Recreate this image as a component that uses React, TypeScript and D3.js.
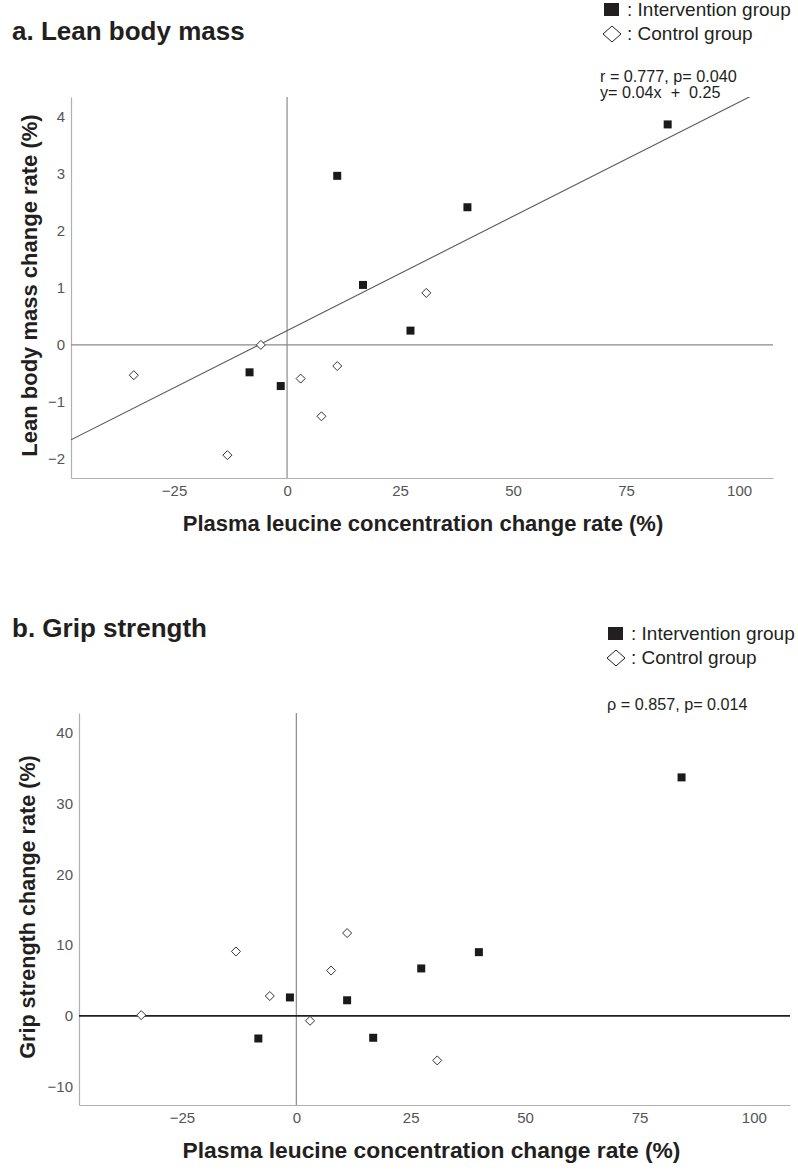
import React, { useEffect, useRef } from "react";
import * as d3 from "d3";

// leucine change (%) per subject, same subjects in both panels
const leucineIntervention = [84.2, 39.9, 27.3, -1.4, 11.1, -8.3, 16.8];
const leucineControl = [-33.9, -13.2, -5.8, 3.0, 7.6, 11.1, 30.8];

const leanIntervention = [3.86, 2.41, 0.25, -0.72, 2.96, -0.48, 1.05];
const leanControl = [-0.53, -1.93, 0.0, -0.59, -1.25, -0.37, 0.91];

const gripIntervention = [33.7, 9.0, 6.7, 2.6, 2.2, -3.2, -3.1];
const gripControl = [0.1, 9.1, 2.8, -0.7, 6.4, 11.7, -6.3];

const xTicks = [-25, 0, 25, 50, 75, 100];
const leanTicks = [-2, -1, 0, 1, 2, 3, 4];
const gripTicks = [-10, 0, 10, 20, 30, 40];

const leanFit = { slope: 0.04, intercept: 0.25 };

const legendLabels = [": Intervention group", ": Control group"];
const xTitle = "Plasma leucine concentration change rate (%)";

const FONT = "'Liberation Sans', Arial, sans-serif";

type Panel = {
  title: string;
  yTitle: string;
  stats: string[];
  xDomain: [number, number];
  yDomain: [number, number];
  left: number; right: number; top: number; bottom: number;
  yTicks: number[];
  inter: number[];
  ctrl: number[];
  fit: { slope: number; intercept: number } | null;
  zeroDark: boolean;
  titleY: number;
  legendY: number;
  legendX: number;
  statsX: number;
  statsY: number;
  xTitleY: number;
  xTitleSize: number;
  xTitleShift: number;
  yTitleX: number;
  yTitleSize: number;
};

const panels: Panel[] = [
  {
    title: "a. Lean body mass",
    yTitle: "Lean body mass change rate (%)",
    stats: ["r = 0.777, p= 0.040", "y= 0.04x \u00A0+\u00A0 0.25"],
    xDomain: [-47.8, 107.5],
    yDomain: [-2.33, 4.34],
    left: 71, right: 773, top: 97, bottom: 478,
    yTicks: leanTicks,
    inter: leanIntervention,
    ctrl: leanControl,
    fit: leanFit,
    zeroDark: false,
    titleY: 40,
    legendY: 9,
    legendX: 604,
    statsX: 600,
    statsY: 82,
    xTitleY: 531,
    xTitleSize: 22,
    xTitleShift: 1,
    yTitleX: 37,
    yTitleSize: 22,
  },
  {
    title: "b. Grip strength",
    yTitle: "Grip strength change rate (%)",
    stats: ["\u03C1 = 0.857, p= 0.014"],
    xDomain: [-47.5, 107.9],
    yDomain: [-12.6, 42.8],
    left: 79, right: 790, top: 713, bottom: 1105,
    yTicks: gripTicks,
    inter: gripIntervention,
    ctrl: gripControl,
    fit: null,
    zeroDark: true,
    titleY: 637,
    legendY: 633,
    legendX: 608,
    statsX: 607,
    statsY: 710,
    xTitleY: 1158,
    xTitleSize: 22.8,
    xTitleShift: -3,
    yTitleX: 35,
    yTitleSize: 21.6,
  },
];

function drawPanel(svg: d3.Selection<SVGSVGElement, unknown, null, undefined>, p: Panel, i: number) {
  const x = d3.scaleLinear().domain(p.xDomain).range([p.left, p.right]);
  const y = d3.scaleLinear().domain(p.yDomain).range([p.bottom, p.top]);
  const g = svg.append("g");

  // title
  g.append("text")
    .attr("x", 12).attr("y", p.titleY)
    .attr("font-size", 26).attr("font-weight", "bold").attr("fill", "#231f20")
    .text(p.title);

  // legend
  g.append("rect")
    .attr("x", p.legendX).attr("y", p.legendY - 6)
    .attr("width", 15).attr("height", 13)
    .attr("fill", "#231f20");
  g.append("text")
    .attr("x", p.legendX + 23).attr("y", p.legendY + 7)
    .attr("font-size", 19).attr("fill", "#231f20")
    .text(legendLabels[0]);
  const dy = p.legendY + 25;
  g.append("path")
    .attr("d", `M${p.legendX + 8},${dy - 8}L${p.legendX + 17},${dy}L${p.legendX + 8},${dy + 8}L${p.legendX - 1},${dy}Z`)
    .attr("fill", "white").attr("stroke", "#231f20").attr("stroke-width", 1);
  g.append("text")
    .attr("x", p.legendX + 23).attr("y", dy + 6)
    .attr("font-size", 19).attr("fill", "#231f20")
    .text(legendLabels[1]);

  // stats
  p.stats.forEach((s, k) => {
    g.append("text")
      .attr("x", p.statsX).attr("y", p.statsY + k * 16)
      .attr("font-size", 16.2).attr("fill", "#231f20")
      .style("white-space", "pre")
      .text(s);
  });

  // axes
  const xAxis = g.append("g")
    .attr("transform", `translate(0,${p.bottom})`)
    .call(d3.axisBottom(x).tickValues(xTicks).tickFormat(d3.format("d")).tickSize(0).tickPadding(7.5));
  const yAxis = g.append("g")
    .attr("transform", `translate(${p.left},0)`)
    .call(d3.axisLeft(y).tickValues(p.yTicks).tickFormat(d3.format("d")).tickSize(0).tickPadding(6));
  [xAxis, yAxis].forEach(a => {
    a.select(".domain").attr("stroke", "#b0b0b0").attr("stroke-width", 1.2);
    a.selectAll("text").attr("font-size", 15).attr("fill", "#555").attr("font-family", FONT);
  });

  // zero reference lines
  g.append("line")
    .attr("x1", x(0)).attr("x2", x(0)).attr("y1", p.top).attr("y2", p.bottom)
    .attr("stroke", "#8a8a8a").attr("stroke-width", 1.2);
  g.append("line")
    .attr("x1", p.left).attr("x2", p.right).attr("y1", y(0)).attr("y2", y(0))
    .attr("stroke", p.zeroDark ? "#231f20" : "#8a8a8a")
    .attr("stroke-width", p.zeroDark ? 1.6 : 1.2);

  // fit line
  if (p.fit) {
    const clipId = `clip${i}`;
    svg.append("defs").append("clipPath").attr("id", clipId)
      .append("rect")
      .attr("x", p.left).attr("y", p.top)
      .attr("width", p.right - p.left).attr("height", p.bottom - p.top);
    const f = p.fit;
    g.append("line")
      .attr("clip-path", `url(#${clipId})`)
      .attr("x1", x(p.xDomain[0])).attr("y1", y(f.slope * p.xDomain[0] + f.intercept))
      .attr("x2", x(p.xDomain[1])).attr("y2", y(f.slope * p.xDomain[1] + f.intercept))
      .attr("stroke", "#5a5a5a").attr("stroke-width", 1.1);
  }

  // points
  const square = d3.symbol(d3.symbolSquare, 64)();
  const diamond = d3.symbol(d3.symbolDiamond2, 52)();

  g.selectAll(".ctrl")
    .data(leucineControl.map((v, k) => ({ x: v, y: p.ctrl[k] })))
    .enter().append("path")
      .attr("class", "ctrl")
      .attr("d", diamond)
      .attr("transform", d => `translate(${x(d.x)},${y(d.y)})`)
      .attr("fill", "white").attr("stroke", "#333").attr("stroke-width", 1);

  g.selectAll(".inter")
    .data(leucineIntervention.map((v, k) => ({ x: v, y: p.inter[k] })))
    .enter().append("path")
      .attr("class", "inter")
      .attr("d", square)
      .attr("transform", d => `translate(${x(d.x)},${y(d.y)})`)
      .attr("fill", "#1a1a1a");

  // axis titles
  g.append("text")
    .attr("x", (p.left + p.right) / 2 + p.xTitleShift).attr("y", p.xTitleY)
    .attr("text-anchor", "middle")
    .attr("font-size", p.xTitleSize).attr("font-weight", "bold").attr("fill", "#231f20")
    .text(xTitle);
  g.append("text")
    .attr("transform", `translate(${p.yTitleX},${(p.top + p.bottom) / 2 - 2}) rotate(-90)`)
    .attr("text-anchor", "middle")
    .attr("font-size", p.yTitleSize).attr("font-weight", "bold").attr("fill", "#231f20")
    .text(p.yTitle);
}

export default function App() {
  const ref = useRef<SVGSVGElement>(null);

  useEffect(() => {
    const svg = d3.select(ref.current as SVGSVGElement);
    svg.selectAll("*").remove();
    panels.forEach((p, i) => drawPanel(svg, p, i));
  }, []);

  return (
    <svg
      ref={ref}
      width={798}
      height={1170}
      style={{ position: "absolute", left: 0, top: 0, background: "white", fontFamily: FONT }}
    />
  );
}
